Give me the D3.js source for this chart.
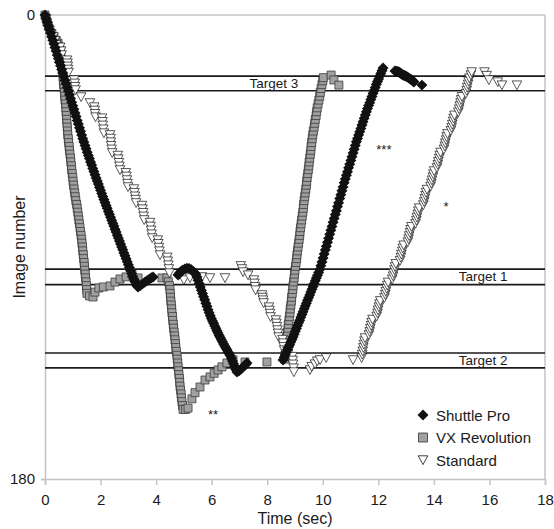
<!DOCTYPE html>
<html>
<head>
<meta charset="utf-8">
<script src="https://cdn.jsdelivr.net/npm/d3@7.9.0/dist/d3.min.js"></script>
<style>
  body { margin: 0; background: #fff; }
  svg text { font-family: "Liberation Sans", Arial, sans-serif; fill: #1a1a1a; }
</style>
</head>
<body>
<svg id="chart" width="554" height="529"></svg>
<script>
// Values: [time (sec), image number]
const shuttlePro = [
  [0,0],[0.04,1.4],[0.08,2.8],[0.12,4.2],[0.16,5.6],[0.2,7],[0.24,8.4],[0.28,9.8],[0.32,11.2],[0.36,12.6],
  [0.4,14],[0.44,15.5],[0.48,16.9],[0.52,18.3],[0.56,19.7],[0.6,21.1],[0.64,22.5],[0.68,23.9],[0.72,25.3],[0.76,26.7],
  [0.8,28.1],[0.84,29.5],[0.88,30.9],[0.92,32.4],[0.96,33.8],[1,35.2],[1.04,36.6],[1.08,38],[1.12,39.4],[1.16,40.9],
  [1.2,42.3],[1.24,43.7],[1.28,45.1],[1.32,46.6],[1.36,48],[1.4,49.3],[1.44,50.6],[1.48,51.9],[1.52,53.2],[1.56,54.5],
  [1.6,55.7],[1.64,57],[1.68,58.2],[1.72,59.5],[1.76,60.7],[1.8,62],[1.84,63.2],[1.88,64.4],[1.92,65.6],[1.96,66.8],
  [2,68],[2.04,69.2],[2.08,70.4],[2.12,71.6],[2.16,72.7],[2.2,73.9],[2.24,75],[2.28,76.2],[2.32,77.3],[2.36,78.5],
  [2.4,79.6],[2.44,80.8],[2.48,81.9],[2.52,83.1],[2.56,84.2],[2.6,85.4],[2.64,86.5],[2.68,87.7],[2.72,88.8],[2.76,90],
  [2.8,91.1],[2.84,92.3],[2.88,93.4],[2.92,94.6],[2.96,95.7],[3,96.9],[3.04,98],[3.08,99.2],[3.12,100.3],[3.16,101.4],
  [3.2,102.5],[3.24,103.5],[3.28,104.5],[3.32,105.1],[3.35,105.5],
  [3.43,104.9],[3.51,104.3],[3.59,103.7],[3.67,103.1],[3.75,102.5],[3.83,101.9],[3.89,101.6],
  [4.79,100.9],[4.83,100.3],[4.87,99.8],[4.91,99.4],[4.95,99],[5.03,98.5],[5.11,98.2],[5.19,98.3],[5.27,98.8],
  [5.35,99.6],[5.39,100.1],[5.43,100.6],
  [5.47,101.6],[5.51,102.9],[5.55,104.2],[5.59,105.5],[5.63,106.8],[5.67,108],[5.71,109.3],[5.75,110.5],[5.79,111.8],
  [5.83,113],[5.87,114.3],[5.91,115.5],[5.95,116.7],[5.99,117.7],[6.03,118.7],[6.07,119.6],[6.11,120.6],[6.15,121.5],
  [6.19,122.5],[6.23,123.4],[6.27,124.3],[6.31,125.1],[6.35,126],[6.39,126.8],[6.43,127.6],[6.47,128.4],[6.51,129.2],
  [6.55,129.9],[6.59,130.7],[6.63,131.4],[6.67,132.2],[6.71,133.2],[6.75,134.2],[6.79,135.3],[6.83,136.4],[6.87,137.5],
  [6.91,138.5],[6.99,138],[7.07,137.2],[7.15,136.4],[7.23,135.6],[7.27,135],
  [8.57,133.8],[8.61,132.8],[8.65,131.8],[8.69,130.8],[8.73,129.8],[8.77,128.8],[8.81,127.9],[8.85,126.9],[8.89,125.9],
  [8.93,124.9],[8.97,123.8],[9.01,122.7],[9.05,121.6],[9.09,120.5],[9.13,119.4],[9.17,118.4],[9.21,117.3],[9.25,116.2],
  [9.29,115.1],[9.33,114],[9.37,112.9],[9.41,111.8],[9.45,110.7],[9.49,109.7],[9.53,108.6],[9.57,107.5],[9.61,106.4],
  [9.65,105.3],[9.69,104.2],[9.73,103.1],[9.77,102],[9.81,101],[9.85,99.9],[9.89,98.7],[9.93,97.3],[9.97,95.8],
  [10.01,94.3],[10.05,92.7],[10.09,91.2],[10.13,89.7],[10.17,88.2],[10.21,86.6],[10.25,85.1],[10.29,83.5],[10.33,82],
  [10.37,80.4],[10.41,78.9],[10.45,77.4],[10.49,75.9],[10.53,74.3],[10.57,72.8],[10.61,71.2],[10.65,69.7],[10.69,68.2],
  [10.73,66.7],[10.77,65.1],[10.81,63.6],[10.85,62.2],[10.89,60.8],[10.93,59.3],[10.97,57.9],[11.01,56.4],[11.05,55],
  [11.09,53.5],[11.13,52.1],[11.17,50.6],[11.21,49.2],[11.25,47.9],[11.29,46.6],[11.33,45.3],[11.37,44],[11.41,42.7],
  [11.45,41.4],[11.49,40.1],[11.53,38.8],[11.57,37.5],[11.61,36.3],[11.65,35.1],[11.69,34],[11.73,32.8],[11.77,31.6],
  [11.81,30.4],[11.85,29.3],[11.89,28.1],[11.93,26.9],[11.97,25.8],[12.01,24.8],[12.05,23.7],[12.09,22.7],[12.13,21.6],
  [12.17,20.6],
  [12.6,21.7],[12.64,21.8],[12.67,21.9],[12.71,22],[12.74,22.1],[12.78,22.4],[12.81,22.7],[12.85,23],[12.89,23.3],
  [12.93,23.5],[12.96,23.6],[13,23.8],[13.03,24],[13.08,24.3],[13.12,24.6],[13.17,24.9],[13.21,25.2],[13.25,25.6],
  [13.28,26],[13.57,27.2]
];

const vxRevolution = [
  [0,0],[0.04,1.2],[0.07,2.7],[0.12,4.2],[0.18,5.8],[0.25,7.2],[0.32,8.5],[0.4,9.8],[0.47,10.9],[0.51,12.3],
  [0.54,13.6],[0.57,15.5],[0.59,17.4],[0.61,19.4],[0.62,21],[0.64,22.5],[0.65,24],[0.66,25.5],[0.67,27],[0.69,28.5],
  [0.7,30],[0.71,31.5],[0.72,33],[0.74,34.5],[0.75,36],[0.76,37.5],[0.77,39],[0.78,40.5],[0.79,42],[0.8,43.5],
  [0.81,45],[0.82,46.5],[0.84,48],[0.85,49.5],[0.87,51],[0.88,52.5],[0.9,54],[0.92,55.5],[0.93,57],[0.95,58.5],
  [0.96,60],[0.98,61.5],[1,63],[1.01,64.5],[1.03,66],[1.05,67.5],[1.07,69],[1.09,70.5],[1.11,72],[1.14,73.5],
  [1.16,75],[1.18,76.5],[1.2,78],[1.22,79.5],[1.24,81],[1.26,82.5],[1.28,84],[1.3,85.5],[1.32,87],[1.33,88.5],
  [1.35,90],[1.36,91.5],[1.38,93],[1.39,94.5],[1.41,96],[1.42,97.5],[1.43,99],[1.45,100.5],[1.46,102],[1.48,103.5],
  [1.49,105],[1.5,106.5],[1.51,108],
  [1.6,109],[1.73,109.4],[1.8,107.5],[1.94,105.9],[2.1,105.5],[2.34,105.1],[2.52,103.6],[2.7,102.4],[2.92,101.6],
  [3.13,100.5],[3.35,102],[4.21,102],
  [4.39,102],[4.44,103.5],[4.48,105],[4.5,106.5],[4.51,108],[4.52,109.5],[4.53,111],[4.55,112.5],[4.56,114],
  [4.57,115.5],[4.59,117],[4.6,118.5],[4.62,120],[4.63,121.5],[4.65,123],[4.67,124.5],[4.68,126],[4.7,127.5],
  [4.71,129],[4.73,130.5],[4.75,132],[4.76,133.5],[4.78,135],[4.79,136.5],[4.81,138],[4.82,139.5],[4.84,141],
  [4.85,142.5],[4.86,144],[4.88,145.5],[4.9,147],[4.91,148.5],[4.93,150],[4.95,151.5],[4.97,153],
  [5.06,153],[5.15,152.5],[5.29,148.9],[5.4,146.5],[5.58,144.3],[5.76,141.6],[5.94,140.4],[6.09,139],[6.23,137.7],
  [6.37,136.5],[6.55,135],[6.77,133.8],[7.2,134.6],[7.99,134.6],
  [8.63,133.5],[8.64,132],[8.66,130.5],[8.67,129],[8.68,127.5],[8.7,126],[8.71,124.5],[8.73,123],[8.75,121.5],
  [8.76,120],[8.78,118.5],[8.8,117],[8.82,115.5],[8.83,114],[8.85,112.5],[8.87,111],[8.88,109.5],[8.9,108],
  [8.92,106.5],[8.93,105],[8.95,103.5],[8.97,102],[8.98,100.5],[9,99],[9.02,97.5],[9.04,96],[9.06,94.5],[9.07,93],
  [9.09,91.5],[9.11,90],[9.13,88.5],[9.15,87],[9.17,85.5],[9.18,84],[9.2,82.5],[9.22,81],[9.24,79.5],[9.26,78],
  [9.28,76.5],[9.3,75],[9.31,73.5],[9.33,72],[9.35,70.5],[9.37,69],[9.39,67.5],[9.41,66],[9.42,64.5],[9.44,63],
  [9.46,61.5],[9.48,60],[9.5,58.5],[9.51,57],[9.53,55.5],[9.55,54],[9.57,52.5],[9.58,51],[9.6,49.5],[9.62,48],
  [9.64,46.5],[9.66,45],[9.69,43.5],[9.71,42],[9.73,40.5],[9.76,39],[9.78,37.5],[9.8,36],[9.83,34.5],[9.86,33],
  [9.89,31.5],[9.91,30],[9.94,28.5],[9.97,27],[10,25.5],[10.02,24.3],
  [10.3,23.3],[10.4,25.2],[10.58,27.2]
];

const standard = [
  [0.03,1.5],[0.07,3.5],[0.12,5.5],[0.2,7.5],[0.3,8.5],[0.36,10],[0.4,11.5],[0.55,12.5],[0.58,14],[0.6,15.5],
  [0.79,17.5],[0.81,18.7],[0.82,19.9],[0.83,21.1],[0.85,22.3],[1.05,25.2],[1.07,26.5],[1.08,27.8],[1.1,29.1],
  [1.3,31.8],[1.62,34.1],[1.77,35.7],[1.79,37],[1.8,38.3],[1.82,39.6],[2.05,40],[2.07,41.4],[2.08,42.8],[2.1,44.3],
  [2.12,45.8],[2.34,46.5],[2.36,47.9],[2.37,49.3],[2.38,50.7],[2.4,52.1],[2.42,53.5],[2.62,54.5],[2.64,55.9],
  [2.66,57.3],[2.68,58.7],[2.7,60.1],[2.91,61.2],[2.93,62.6],[2.95,64],[2.97,65.4],[2.99,66.7],[3.2,67.5],[3.22,68.9],
  [3.24,70.3],[3.26,71.6],[3.28,72.9],[3.49,73.9],[3.51,75.3],[3.53,76.7],[3.55,78.1],[3.57,79.5],[3.78,80.5],
  [3.8,82],[3.82,83.5],[3.84,85],[3.86,86.5],[4.06,87.3],[4.08,88.7],[4.1,90.2],[4.12,91.6],[4.14,93.1],[4.4,94],
  [4.42,95.5],[4.44,97],[4.46,98.5],[4.48,100.1],
  [5,102.8],[5.22,102],[5.65,101.6],[5.94,102],[6.48,102],
  [7.05,97.3],[7.09,98.5],[7.13,99.7],[7.31,100.9],
  [7.52,102.8],[7.54,104.1],[7.56,105.4],[7.58,106.7],[7.81,108.6],[7.83,109.6],[7.85,110.6],[7.87,111.7],
  [8.06,113.3],[8.08,114.6],[8.1,115.8],[8.12,117.1],[8.31,118.3],[8.33,119.6],[8.35,120.9],[8.37,122.2],
  [8.39,123.5],[8.41,124.9],[8.55,125.9],[8.57,127.3],[8.59,128.7],[8.61,130],[8.73,130.5],[8.75,131.5],
  [8.9,132.5],[8.92,134],[8.93,135.5],[8.95,137],[8.96,138.5],
  [9.54,137.7],[9.6,136.4],[9.72,135.4],[9.8,134.3],[9.9,133.8],[10.12,133],
  [11.09,133.8],
  [11.4,133],[11.42,131.7],[11.44,130.4],[11.46,129.1],[11.48,127.8],[11.5,126.5],[11.52,125.3],
  [11.66,124.1],[11.69,122.9],[11.71,121.7],[11.74,120.5],[11.76,119.3],[11.79,118.1],
  [11.94,116.9],[11.97,115.7],[11.99,114.5],[12.02,113.3],[12.04,112.1],[12.07,110.9],
  [12.22,109.7],[12.25,108.5],[12.27,107.3],[12.3,106.1],[12.32,104.9],[12.35,103.7],
  [12.5,102.5],[12.53,101.3],[12.55,100.1],[12.58,98.9],[12.6,97.7],[12.63,96.5],
  [12.78,95.3],[12.81,94.1],[12.83,92.9],[12.86,91.7],[12.88,90.5],[12.91,89.3],
  [13.06,88.1],[13.09,86.9],[13.11,85.7],[13.14,84.5],[13.16,83.3],[13.19,82.1],
  [13.34,80.9],[13.37,79.7],[13.39,78.5],[13.42,77.3],[13.44,76.1],[13.47,74.9],
  [13.62,73.7],[13.65,72.5],[13.67,71.3],[13.7,70.1],[13.72,68.9],[13.75,67.7],
  [13.88,66.5],[13.91,65.3],[13.93,64.1],[13.96,62.9],[13.98,61.7],[14.01,60.5],
  [14.11,59.3],[14.14,58.1],[14.16,56.9],[14.19,55.7],[14.21,54.5],[14.24,53.3],
  [14.36,52.1],[14.39,50.9],[14.41,49.7],[14.44,48.5],[14.46,47.3],[14.49,46.1],
  [14.61,44.9],[14.64,43.7],[14.66,42.5],[14.69,41.3],[14.71,40.1],[14.74,38.9],
  [14.88,37.7],[14.91,36.5],[14.93,35.3],[14.96,34.1],[14.98,32.9],[15.01,31.7],
  [15.15,30.5],[15.18,29.3],[15.2,28.1],[15.23,26.9],[15.25,25.7],[15.28,24.5],
  [15.33,23.3],[15.36,22.1],
  [15.82,22.1],[15.9,23.5],[15.98,25.2],[16.3,26],[16.45,27.2],[16.99,27.2]
];

// target bands: [label, top, bottom] in image numbers
const targets = [
  ['Target 3', 23.7, 29.4],
  ['Target 1', 98.6, 104.6],
  ['Target 2', 131.1, 136.9]
];

// significance marks: [text, time, image number]
const marks = [
  ['**', 6.05, 154.4],
  ['***', 12.2, 51.6],
  ['*', 14.44, 73.7]
];

const xTicks = [0, 2, 4, 6, 8, 10, 12, 14, 16, 18];
const yTicks = [0, 180];

const seriesNames = ['Shuttle Pro', 'VX Revolution', 'Standard'];

// layout
const svg = d3.select('#chart');
const x = d3.scaleLinear().domain([0, 18]).range([45, 545]);
const y = d3.scaleLinear().domain([0, 180]).range([15, 479]);
const frameColor = '#c4c4c4';

// marker shapes
const squarePath = d3.symbol(d3.symbolSquare, 64)();
const diamondPath = d3.symbol(d3.symbolSquare, 60)();
const trianglePath = 'M-4.8,-4.2L4.8,-4.2L0,4.6Z';

// frame (top + right)
svg.append('line').attr('x1', x(0)).attr('x2', x(18)).attr('y1', y(0)).attr('y2', y(0))
  .attr('stroke', frameColor).attr('stroke-width', 1.5);
svg.append('line').attr('x1', x(18)).attr('x2', x(18)).attr('y1', y(0)).attr('y2', y(180))
  .attr('stroke', frameColor).attr('stroke-width', 1.5);

// axes
const xAxis = svg.append('g')
  .attr('transform', `translate(0,${y(180)})`)
  .call(d3.axisBottom(x).tickValues(xTicks).tickSizeOuter(0).tickSize(6).tickPadding(9));
const yAxis = svg.append('g')
  .attr('transform', `translate(${x(0)},0)`)
  .call(d3.axisLeft(y).tickValues(yTicks).tickSizeOuter(0).tickSize(4).tickPadding(6));
[xAxis, yAxis].forEach((g) => {
  g.select('.domain').attr('stroke', frameColor).attr('stroke-width', 1.5);
  g.selectAll('.tick line').attr('stroke', frameColor).attr('stroke-width', 1.5);
  g.selectAll('.tick text').attr('font-size', 15).attr('fill', '#1a1a1a')
    .attr('font-family', '"Liberation Sans", Arial, sans-serif');
});

// axis titles
svg.append('text').attr('x', 295).attr('y', 524).attr('text-anchor', 'middle')
  .attr('font-size', 16).text('Time (sec)');
svg.append('text').attr('transform', `translate(25,${(y(0) + y(180)) / 2}) rotate(-90)`)
  .attr('text-anchor', 'middle').attr('font-size', 16).text('Image number');

// target bands
const labelX = { 'Target 3': 8.24, 'Target 1': 15.77, 'Target 2': 15.77 };
targets.forEach(([label, lo, hi]) => {
  [lo, hi].forEach((v) => {
    svg.append('line').attr('x1', x(0)).attr('x2', x(18)).attr('y1', y(v)).attr('y2', y(v))
      .attr('stroke', '#1a1a1a').attr('stroke-width', 1.6);
  });
  svg.append('text').attr('x', x(labelX[label])).attr('y', y((lo + hi) / 2))
    .attr('text-anchor', 'middle').attr('dominant-baseline', 'central')
    .attr('font-size', 13.5).text(label);
});

// series: VX under, then Standard, then Shuttle Pro on top
svg.append('g').selectAll('path').data(vxRevolution).join('path')
  .attr('d', squarePath)
  .attr('transform', (d) => `translate(${x(d[0])},${y(d[1])})`)
  .attr('fill', '#a0a0a0').attr('stroke', '#363636').attr('stroke-width', 0.75);

svg.append('g').selectAll('path').data(standard).join('path')
  .attr('d', trianglePath)
  .attr('transform', (d) => `translate(${x(d[0])},${y(d[1])})`)
  .attr('fill', '#fff').attr('stroke', '#111').attr('stroke-width', 0.7);

svg.append('g').selectAll('path').data(shuttlePro).join('path')
  .attr('d', diamondPath)
  .attr('transform', (d) => `translate(${x(d[0])},${y(d[1])}) rotate(45)`)
  .attr('fill', '#111');

// significance marks
marks.forEach(([txt, t, v]) => {
  svg.append('text').attr('x', x(t)).attr('y', y(v) + 6).attr('text-anchor', 'middle')
    .attr('font-size', 13).text(txt);
});

// legend
const legend = svg.append('g').attr('transform', 'translate(423,415)');
seriesNames.forEach((name, i) => {
  const row = legend.append('g').attr('transform', `translate(0,${i * 22.5})`);
  if (i === 0) row.append('path').attr('d', diamondPath).attr('transform', 'rotate(45)').attr('fill', '#111');
  if (i === 1) row.append('path').attr('d', d3.symbol(d3.symbolSquare, 81)())
    .attr('fill', '#a0a0a0').attr('stroke', '#363636').attr('stroke-width', 0.8);
  if (i === 2) row.append('path').attr('d', trianglePath)
    .attr('fill', '#fff').attr('stroke', '#111').attr('stroke-width', 0.8);
  row.append('text').attr('x', 13).attr('y', 0).attr('dominant-baseline', 'central')
    .attr('font-size', 15).text(name);
});
</script>
</body>
</html>
